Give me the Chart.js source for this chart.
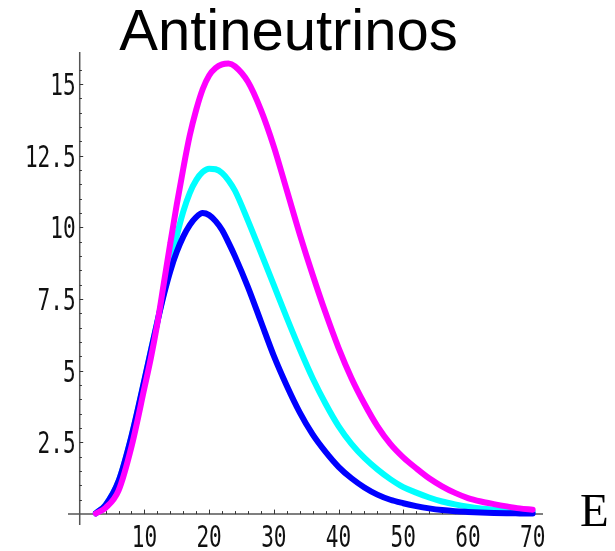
<!DOCTYPE html>
<html>
<head>
<meta charset="utf-8">
<script src="https://cdn.jsdelivr.net/npm/chart.js@4"></script>
<style>
  html, body { margin: 0; padding: 0; background: #fff; }
</style>
</head>
<body>
<canvas id="chart" width="615" height="551"></canvas>
<script>
// ── Data ──────────────────────────────────────
const energy = [2.5, 4, 6, 8, 10, 11, 12, 13, 14, 15, 16, 17, 18, 19, 20, 21, 22, 23, 24,
                26, 28, 30, 32, 34, 36, 38, 40, 42, 44, 46, 48, 50, 52, 54, 56, 58, 60, 62, 64, 66, 68, 70];

const blueValues = [0.03, 0.32, 1.15, 2.72, 4.68, 5.7, 6.7, 7.65, 8.48, 9.15, 9.68, 10.08, 10.36, 10.5, 10.43, 10.22, 9.91, 9.47, 8.99,
                    7.92, 6.72, 5.52, 4.48, 3.55, 2.78, 2.17, 1.65, 1.25, 0.93, 0.68, 0.5, 0.38, 0.28, 0.2, 0.14, 0.1, 0.075, 0.055, 0.04, 0.03, 0.025, 0.02];

const cyanValues = [0.03, 0.32, 1.14, 2.7, 4.66, 5.7, 6.72, 7.72, 8.7, 9.7, 10.55, 11.2, 11.65, 11.93, 12.05, 12.03, 11.9, 11.64, 11.28,
                    10.24, 9.12, 7.99, 6.85, 5.76, 4.74, 3.85, 3.07, 2.45, 1.96, 1.56, 1.22, 0.94, 0.75, 0.58, 0.44, 0.34, 0.26, 0.2, 0.16, 0.13, 0.1, 0.08];

const magentaValues = [0.02, 0.22, 0.82, 2.35, 4.4, 5.45, 6.65, 8.05, 9.45, 10.8, 12.05, 13.2, 14.1, 14.82, 15.3, 15.56, 15.69, 15.72, 15.62,
                       15.08, 14.1, 12.82, 11.3, 9.77, 8.35, 7.02, 5.8, 4.74, 3.85, 3.07, 2.45, 1.98, 1.6, 1.25, 0.97, 0.74, 0.56, 0.44, 0.35, 0.27, 0.2, 0.15];

const xTicks      = [10, 20, 30, 40, 50, 60, 70];
const xTickLabels = ['10', '20', '30', '40', '50', '60', '70'];
const yTicks      = [2.5, 5, 7.5, 10, 12.5, 15];
const yTickLabels = ['2.5', '5', '7.5', '10', '12.5', '15'];

const titleText = 'Antineutrinos';
const xAxisName = 'E';

// ── Helpers ───────────────────────────────────
function toPoints(values) {
  return energy.map((e, i) => ({ x: e, y: values[i] }));
}

function narrowText(ctx, text, x, y, align) {
  ctx.save();
  ctx.translate(x, y);
  ctx.scale(0.715, 1);
  ctx.textAlign = align;
  ctx.fillText(text, 0, 0);
  ctx.restore();
}

// ── Mathematica-style axes through the origin ─
const originAxes = {
  id: 'originAxes',
  beforeDatasetsDraw(chart) {
    const { ctx, chartArea: a, scales: { x, y } } = chart;
    const x0 = x.getPixelForValue(0);
    const y0 = y.getPixelForValue(0);

    ctx.save();
    ctx.strokeStyle = '#555';
    ctx.lineWidth = 1.5;
    ctx.beginPath();
    ctx.moveTo(a.left, y0);  ctx.lineTo(a.right, y0);
    ctx.moveTo(x0, a.top);   ctx.lineTo(x0, a.bottom);
    ctx.stroke();

    ctx.strokeStyle = '#333';
    ctx.lineWidth = 1;
    ctx.beginPath();
    for (let v = 2; v <= 70; v += 2) {
      const px = Math.round(x.getPixelForValue(v)) + 0.5;
      const len = xTicks.includes(v) ? 4.5 : 3;
      ctx.moveTo(px, y0);
      ctx.lineTo(px, y0 - len);
    }
    for (let v = 0.5; v <= 15.5; v += 0.5) {
      const py = Math.round(y.getPixelForValue(v)) + 0.5;
      const len = yTicks.includes(v) ? 3.5 : 2.2;
      ctx.moveTo(x0, py);
      ctx.lineTo(x0 + len, py);
    }
    ctx.stroke();
    ctx.restore();
  },
  afterDraw(chart) {
    const { ctx, scales: { x, y } } = chart;
    const x0 = x.getPixelForValue(0);
    const y0 = y.getPixelForValue(0);

    ctx.save();
    ctx.fillStyle = '#111';
    ctx.textBaseline = 'alphabetic';
    ctx.font = '29.5px "DejaVu Sans Mono", monospace';

    xTicks.forEach((v, i) => {
      narrowText(ctx, xTickLabels[i], x.getPixelForValue(v), y0 + 33, 'center');
    });
    yTicks.forEach((v, i) => {
      narrowText(ctx, yTickLabels[i], x0 - 4, y.getPixelForValue(v) + 10.8, 'right');
    });

    // title
    ctx.fillStyle = '#000';
    ctx.font = '58px "Liberation Sans", Arial, sans-serif';
    ctx.textAlign = 'center';
    ctx.fillText(titleText, 288.5, 50);

    // axis name
    ctx.font = '47px "Liberation Serif", "Times New Roman", serif';
    ctx.textAlign = 'left';
    ctx.fillText(xAxisName, 580, 526);
    ctx.restore();
  }
};

// ── Chart ─────────────────────────────────────
const lineStyle = {
  borderWidth: 6,
  pointRadius: 0,
  fill: false,
  cubicInterpolationMode: 'monotone',
  borderCapStyle: 'round',
  borderJoinStyle: 'round'
};

new Chart(document.getElementById('chart'), {
  type: 'line',
  data: {
    datasets: [
      { label: 'magenta', data: toPoints(magentaValues), borderColor: '#ff00ff', ...lineStyle },
      { label: 'blue',    data: toPoints(blueValues),    borderColor: '#0000ff', ...lineStyle },
      { label: 'cyan',    data: toPoints(cyanValues),    borderColor: '#00ffff', ...lineStyle }
    ]
  },
  options: {
    responsive: false,
    animation: false,
    layout: { padding: { left: 68, right: 72, top: 52, bottom: 26 } },
    plugins: {
      legend:  { display: false },
      tooltip: { enabled: false }
    },
    scales: {
      x: { type: 'linear', min: -1.81, max: 71.6, display: false },
      y: { type: 'linear', min: -0.38, max: 16.12, display: false }
    }
  },
  plugins: [originAxes]
});
</script>
</body>
</html>
